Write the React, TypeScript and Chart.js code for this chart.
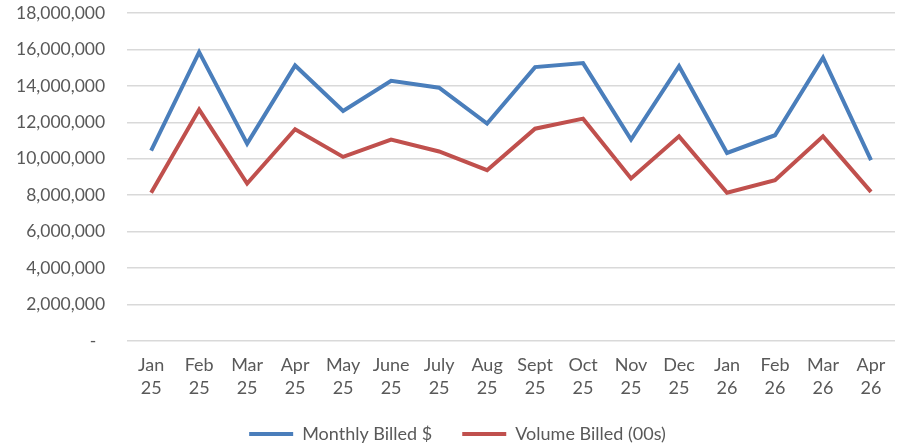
import React, { useEffect, useRef } from "react";
import { Chart, registerables } from "chart.js";

Chart.register(...registerables);

const months = [
  ["Jan", "25"], ["Feb", "25"], ["Mar", "25"], ["Apr", "25"], ["May", "25"], ["June", "25"],
  ["July", "25"], ["Aug", "25"], ["Sept", "25"], ["Oct", "25"], ["Nov", "25"], ["Dec", "25"],
  ["Jan", "26"], ["Feb", "26"], ["Mar", "26"], ["Apr", "26"],
];

const monthlyBilled = [
  10450000, 15850000, 10830000, 15120000, 12620000, 14280000, 13900000, 11930000,
  15030000, 15250000, 11050000, 15080000, 10320000, 11290000, 15550000, 9920000,
];

const volumeBilled = [
  8130000, 12700000, 8640000, 11620000, 10100000, 11050000, 10400000, 9370000,
  11650000, 12200000, 8920000, 11230000, 8130000, 8820000, 11230000, 8180000,
];

const seriesNames = ["Monthly Billed $", "Volume Billed (00s)"];
const seriesColors = ["#4a7ebb", "#c0504d"];

const legendShift = {
  id: "legendShift",
  afterLayout(chart: any) {
    if (chart.legend) {
      chart.legend.left += 13;
      chart.legend.right += 13;
    }
  },
};

export default function App() {
  const ref = useRef<HTMLCanvasElement | null>(null);

  useEffect(() => {
    if (!ref.current) return;
    const font = { family: "Lato, 'Open Sans', sans-serif", size: 18, lineHeight: 1.28 };
    const yFont = { family: "Lato, 'Open Sans', sans-serif", size: 17.5, lineHeight: 1.28 };
    const chart = new Chart(ref.current, {
      type: "line",
      data: {
        labels: months,
        datasets: [
          {
            label: seriesNames[0],
            data: monthlyBilled,
            borderColor: seriesColors[0],
            backgroundColor: seriesColors[0],
            borderWidth: 4,
            pointRadius: 0,
            tension: 0,
          },
          {
            label: seriesNames[1],
            data: volumeBilled,
            borderColor: seriesColors[1],
            backgroundColor: seriesColors[1],
            borderWidth: 4,
            pointRadius: 0,
            tension: 0,
          },
        ],
      },
      plugins: [legendShift],
      options: {
        animation: false,
        responsive: false,
        maintainAspectRatio: false,
        layout: { padding: { top: 1, right: 12, left: -6, bottom: -6 } },
        plugins: {
          tooltip: { enabled: false },
          legend: {
            position: "bottom",
            labels: {
              font,
              color: "#595959",
              boxWidth: 44,
              boxHeight: 4,
              padding: 30,
              generateLabels: (c: any) =>
                c.data.datasets.map((d: any, i: number) => ({
                  text: d.label,
                  fillStyle: d.borderColor,
                  strokeStyle: d.borderColor,
                  lineWidth: 0,
                  hidden: false,
                  datasetIndex: i,
                  fontColor: "#595959",
                })),
            },
          },
        },
        scales: {
          x: {
            offset: true,
            grid: { display: false, drawTicks: false },
            border: { display: false },
            ticks: { font, color: "#595959", padding: 13, maxRotation: 0, autoSkip: false },
            afterFit: (s: any) => {
              s.height = s.height - 18;
            },
          },
          y: {
            min: 0,
            max: 18000000,
            grid: { color: "#d9d9d9", lineWidth: 1.5, drawTicks: false },
            border: { display: false },
            ticks: {
              stepSize: 2000000,
              font: yFont,
              color: "#595959",
              padding: 22,
              callback: (v: any) => (Number(v) === 0 ? "-  " : Number(v).toLocaleString("en-US")),
            },
            afterFit: (s: any) => {
              s.paddingTop = 13;
              s.paddingBottom = 0;
            },
          },
        },
      },
    });
    return () => chart.destroy();
  }, []);

  return (
    <div style={{ position: "absolute", left: 0, top: 0, width: 907, height: 447, background: "#fff" }}>
      <canvas ref={ref} width={907} height={447} style={{ width: 907, height: 447 }} />
    </div>
  );
}
